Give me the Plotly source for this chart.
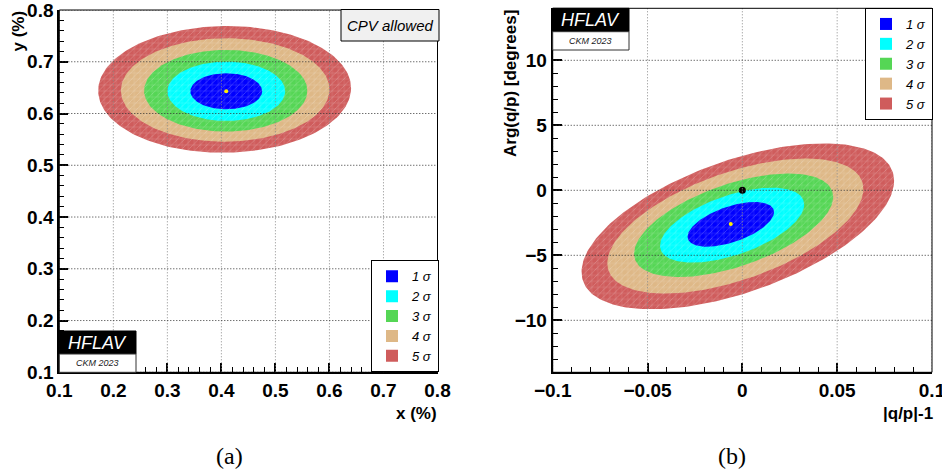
import numpy as np
import plotly.graph_objects as go

# ---------------- data ----------------
levels = ["1 σ", "2 σ", "3 σ", "4 σ", "5 σ"]
colors = ["#0000ff", "#00ffff", "#55d655", "#deb887", "#cf5c5c"]

# panel (a): x (%) vs y (%), contour extents per level
a_cx = [0.409, 0.409, 0.408, 0.407, 0.406]
a_cy = [0.643, 0.643, 0.644, 0.6455, 0.6466]
a_hx = [0.0664, 0.109, 0.151, 0.193, 0.234]
a_hy = [0.0348, 0.0573, 0.0789, 0.0999, 0.1224]
a_rho = [0.0, 0.0, 0.0, 0.01, 0.02]
a_best = (0.409, 0.643)

# panel (b): |q/p|-1 vs Arg(q/p) [degrees]
b_cx = [-0.0061, -0.0054, -0.0046, -0.0037, -0.0024]
b_cy = [-2.62, -2.68, -2.69, -2.75, -2.77]
b_hx = [0.0228, 0.0380, 0.0525, 0.0675, 0.0824]
b_hy = [1.72, 2.88, 3.98, 5.19, 6.38]
b_rho = [0.55, 0.55, 0.55, 0.55, 0.55]
b_best = (-0.0061, -2.59)
b_nocpv = (0.0, 0.0)

a_xticks = [0.1, 0.2, 0.3, 0.4, 0.5, 0.6, 0.7, 0.8]
a_yticks = [0.1, 0.2, 0.3, 0.4, 0.5, 0.6, 0.7, 0.8]
b_xticks = [-0.1, -0.05, 0.0, 0.05, 0.1]
b_xlabels = ["\u22120.1", "\u22120.05", "0", "0.05", "0.1"]
b_yticks = [-10, -5, 0, 5, 10]
b_ylabels = ["\u221210", "\u22125", "0", "5", "10"]

W, H = 942, 473


def px(x):
    return x / W


def py(y):
    return (H - y) / H


def ellipse(cx, cy, hx, hy, rho, n=240):
    t = np.linspace(0, 2 * np.pi, n)
    x = cx + hx * np.cos(t)
    y = cy + hy * (rho * np.cos(t) + np.sqrt(1 - rho ** 2) * np.sin(t))
    return x, y


fig = go.Figure()

panels = [
    ("x", "y", a_cx, a_cy, a_hx, a_hy, a_rho, "legend"),
    ("x2", "y2", b_cx, b_cy, b_hx, b_hy, b_rho, "legend2"),
]
for xa, ya, cxs, cys, hxs, hys, rhos, lg in panels:
    for i in reversed(range(len(levels))):
        ex, ey = ellipse(cxs[i], cys[i], hxs[i], hys[i], rhos[i])
        fig.add_trace(go.Scatter(
            x=ex, y=ey, xaxis=xa, yaxis=ya, mode="lines", fill="toself",
            line=dict(width=0, color=colors[i]), fillcolor=colors[i],
            fillpattern=dict(shape="+", bgcolor=colors[i], fgcolor="white",
                             fgopacity=0.3, size=6, solidity=0.12),
            showlegend=False, hoverinfo="skip"))
        fig.add_trace(go.Scatter(
            x=ex, y=ey, xaxis=xa, yaxis=ya, mode="lines", fill="toself",
            line=dict(width=0), fillcolor="rgba(0,0,0,0)",
            fillpattern=dict(shape="/", bgcolor="rgba(0,0,0,0)", fgcolor="white",
                             fgopacity=0.25, size=5, solidity=0.15),
            showlegend=False, hoverinfo="skip"))
    # legend entries
    for i in range(len(levels)):
        fig.add_trace(go.Scatter(
            x=[None], y=[None], xaxis=xa, yaxis=ya, mode="markers",
            marker=dict(symbol="square", size=12, color=colors[i]),
            name=levels[i], legend=lg, showlegend=True))

# best-fit points
fig.add_trace(go.Scatter(x=[a_best[0]], y=[a_best[1]], xaxis="x", yaxis="y",
                         mode="markers", marker=dict(color="#ffee00", size=4),
                         showlegend=False, hoverinfo="skip"))
fig.add_trace(go.Scatter(x=[b_nocpv[0]], y=[b_nocpv[1]], xaxis="x2", yaxis="y2",
                         mode="markers", marker=dict(color="black", size=7),
                         showlegend=False, hoverinfo="skip"))
fig.add_trace(go.Scatter(x=[b_best[0]], y=[b_best[1]], xaxis="x2", yaxis="y2",
                         mode="markers", marker=dict(color="#ffee00", size=4),
                         showlegend=False, hoverinfo="skip"))

tickfont = dict(family="Liberation Sans", size=19, color="black")
axis_common = dict(showgrid=False, zeroline=False, showline=True, linewidth=2,
                   linecolor="black", ticks="inside", ticklen=9, tickwidth=1.5,
                   tickcolor="black", tickfont=tickfont, mirror=False,
                   automargin=False, ticklabeloverflow="allow")


def bold(labels):
    return [f"<b>{t}</b>" for t in labels]


legend_font = dict(family="Liberation Sans", size=13, style="italic", color="black")

fig.update_layout(
    template="none",
    width=W, height=H, margin=dict(l=0, r=0, t=0, b=0, autoexpand=False),
    paper_bgcolor="white", plot_bgcolor="white",
    xaxis=dict(domain=[px(59.3), px(437.5)], range=[0.1, 0.8], anchor="y",
               tickvals=a_xticks, ticktext=bold([f"{v:.1f}" for v in a_xticks]),
               minor=dict(dtick=0.02, tick0=0.1, ticks="inside", ticklen=5,
                          tickcolor="black", tickwidth=1, showgrid=False),
               **axis_common),
    yaxis=dict(domain=[py(372.3), py(10)], range=[0.1, 0.8], anchor="x",
               tickvals=a_yticks, ticktext=bold([f"{v:.1f}" for v in a_yticks]),
               minor=dict(dtick=0.02, tick0=0.1, ticks="inside", ticklen=5,
                          tickcolor="black", tickwidth=1, showgrid=False),
               **axis_common),
    xaxis2=dict(domain=[px(552.7), px(932)], range=[-0.1, 0.1], anchor="y2",
                tickvals=b_xticks, ticktext=bold(b_xlabels),
                minor=dict(dtick=0.01, tick0=0, ticks="inside", ticklen=5,
                           tickcolor="black", tickwidth=1, showgrid=False),
                **axis_common),
    yaxis2=dict(domain=[py(372.3), py(8.3)], range=[-14, 14], anchor="x2",
                tickvals=b_yticks, ticktext=bold(b_ylabels),
                minor=dict(dtick=1, tick0=0, ticks="inside", ticklen=5,
                           tickcolor="black", tickwidth=1, showgrid=False),
                **axis_common),
    legend=dict(x=px(439), y=py(372.3), xanchor="right", yanchor="bottom",
                bgcolor="white", bordercolor="black", borderwidth=1,
                traceorder="normal", itemwidth=30, tracegroupgap=0,
                font=legend_font),
    legend2=dict(x=px(933), y=py(8), xanchor="right", yanchor="top",
                 bgcolor="white", bordercolor="black", borderwidth=1,
                 traceorder="normal", itemwidth=30, tracegroupgap=0,
                 font=legend_font),
)

shapes = []
# grid lines (drawn above the filled contours, as in the original)
for xa, ya, xt, yt in [("x", "y", a_xticks, a_yticks), ("x2", "y2", b_xticks, b_yticks)]:
    for v in xt:
        shapes.append(dict(type="line", xref=xa, yref=f"{ya} domain", x0=v, x1=v,
                           y0=0, y1=1, layer="above",
                           line=dict(color="#8a8a8a", width=1, dash="1px,2px")))
    for v in yt:
        shapes.append(dict(type="line", xref=f"{xa} domain", yref=ya, x0=0, x1=1,
                           y0=v, y1=v, layer="above",
                           line=dict(color="#333333", width=1, dash="1px,2px")))
    # thin frame
    shapes.append(dict(type="rect", xref=f"{xa} domain", yref=f"{ya} domain",
                       x0=0, x1=1, y0=0, y1=1, layer="above",
                       line=dict(color="black", width=1)))

annotations = []


def logo(x0, x1, ytop, ymid, ybot):
    shapes.append(dict(type="rect", xref="paper", yref="paper", x0=px(x0), x1=px(x1),
                       y0=py(ymid), y1=py(ytop), fillcolor="black",
                       line=dict(color="black", width=1), layer="above"))
    shapes.append(dict(type="rect", xref="paper", yref="paper", x0=px(x0), x1=px(x1),
                       y0=py(ybot), y1=py(ymid), fillcolor="white",
                       line=dict(color="#333", width=1), layer="above"))
    annotations.append(dict(xref="paper", yref="paper", x=px((x0 + x1) / 2),
                            y=py((ytop + ymid) / 2), text="HFLAV", showarrow=False,
                            xanchor="center", yanchor="middle",
                            font=dict(family="Liberation Sans", size=18,
                                      style="italic", color="white")))
    annotations.append(dict(xref="paper", yref="paper", x=px((x0 + x1) / 2),
                            y=py((ymid + ybot) / 2), text="CKM 2023", showarrow=False,
                            xanchor="center", yanchor="middle",
                            font=dict(family="Liberation Sans", size=9,
                                      style="italic", color="#222")))


logo(59.3, 136, 331, 354, 372.3)
logo(552.7, 629, 8.3, 31.7, 50)

# CPV allowed box
shapes.append(dict(type="rect", xref="paper", yref="paper", x0=px(341), x1=px(439),
                   y0=py(41), y1=py(9.5), fillcolor="#f0f0f0",
                   line=dict(color="black", width=1), layer="above"))
annotations.append(dict(xref="paper", yref="paper", x=px(390), y=py(25.5),
                        text="CPV allowed", showarrow=False, xanchor="center",
                        yanchor="middle",
                        font=dict(family="Liberation Sans", size=15, style="italic",
                                  color="black")))

title_font = dict(family="Liberation Sans", size=17, color="black")
annotations += [
    dict(xref="paper", yref="paper", x=px(18), y=py(31.5), text="<b>y (%)</b>",
         textangle=-90, showarrow=False, xanchor="center", yanchor="middle",
         font=title_font),
    dict(xref="paper", yref="paper", x=px(439), y=py(413), text="<b>x (%)</b>",
         showarrow=False, xanchor="right", yanchor="middle", font=title_font),
    dict(xref="paper", yref="paper", x=px(510), y=py(84), text="<b>Arg(q/p) [degrees]</b>",
         textangle=-90, showarrow=False, xanchor="center", yanchor="middle",
         font=title_font),
    dict(xref="paper", yref="paper", x=px(935), y=py(413), text="<b>|q/p|-1</b>",
         showarrow=False, xanchor="right", yanchor="middle", font=title_font),
    dict(xref="paper", yref="paper", x=px(229), y=py(456), text="(a)",
         showarrow=False, xanchor="center", yanchor="middle",
         font=dict(family="Liberation Serif", size=24, color="black")),
    dict(xref="paper", yref="paper", x=px(732), y=py(456), text="(b)",
         showarrow=False, xanchor="center", yanchor="middle",
         font=dict(family="Liberation Serif", size=24, color="black")),
]

fig.update_layout(shapes=shapes, annotations=annotations)
fig.write_html("out.html", config={"displayModeBar": False},
               post_script="document.body.style.margin='0';document.body.style.overflow='hidden';")
